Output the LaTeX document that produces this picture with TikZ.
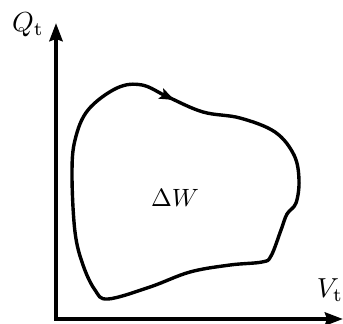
\documentclass[tikz,border=0pt]{standalone}
\usetikzlibrary{arrows.meta,decorations.markings}
\tikzset{pvsec/.style={x=1pt,y=-1pt}}
\tikzset{axisline/.style={line width=4pt,-{Stealth[length=18pt,width=13pt,inset=2pt]}},
         axislabel/.style={anchor=base,scale=2.75},
         loopline/.style={line width=3.4pt,line join=round},
         looparrow/.style={postaction={decorate},decoration={markings,
           mark=at position 0.05 with {\arrow{Stealth[length=15pt,width=11pt,inset=3pt]}}}}}

\begin{document}
\begin{tikzpicture}[pvsec]
    \useasboundingbox (0,0) rectangle (343,324);
    \coordinate (origin) at (56,319);
    \coordinate (qtop) at (56,23);
    \coordinate (vend) at (343,319);
    \draw[axisline] ([yshift=2pt]origin) -- (qtop);
    \draw[axisline] ([xshift=-2pt]origin) -- (vend);
    \node[axislabel] (qlabel) at (28,31) {$Q_\mathrm{t}$};
    \node[axislabel] (vlabel) at (330,297) {$V_\mathrm{t}$};
    % work loop, clockwise
    \draw[loopline,looparrow] plot[smooth cycle,tension=0.6] coordinates {
      (117,88) (142,85) (168,97) (203,112) (240,118) (275,132) (294,155)
      (299,180) (296,203) (287,214) (281,230) (271,256) (262,262)
      (230,265) (190,272) (150,287) (108,299) (95,290) (83,265)
      (75,232) (72,175) (75,140) (88,110)};
    \node[anchor=base,scale=2.5] (work) at (175,206) {$\Delta W$};
  \end{tikzpicture}
\end{document}
